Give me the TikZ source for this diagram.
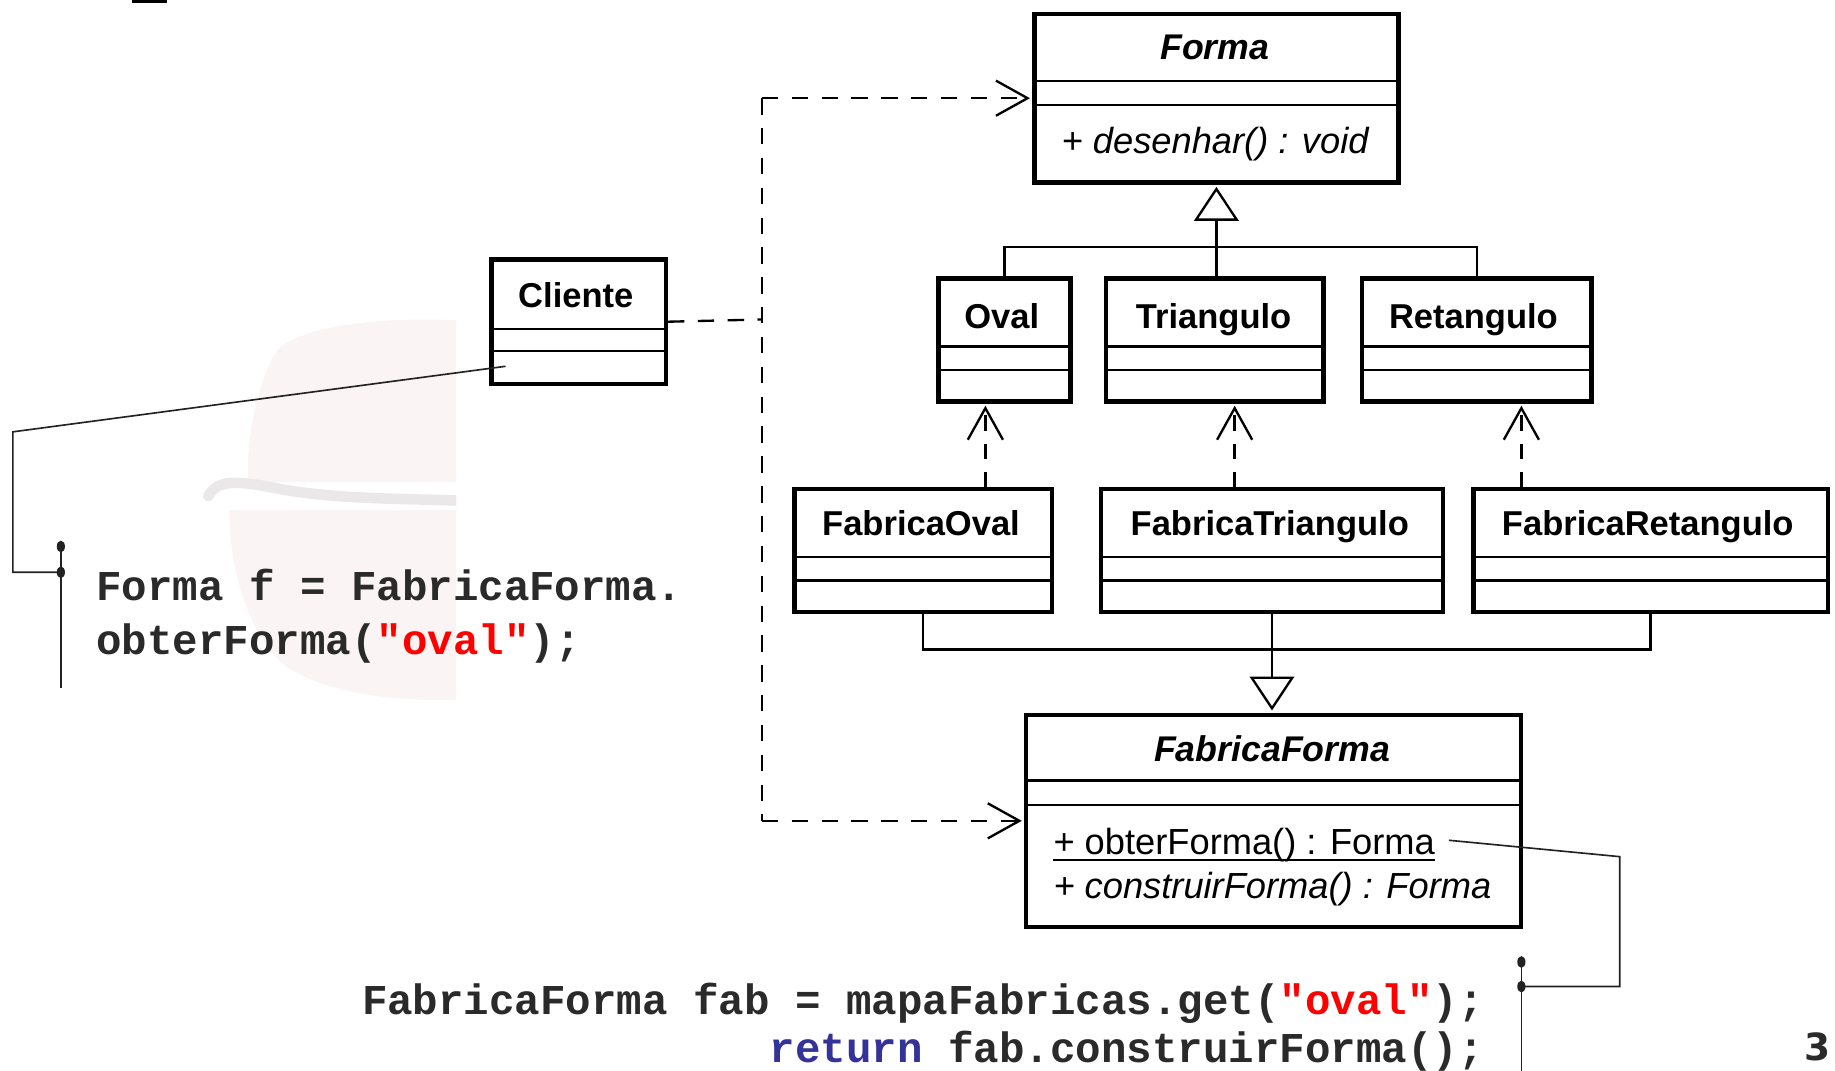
\documentclass[tikz,border=0pt]{standalone}
\usepackage{fontspec}
\setmainfont{Liberation Sans}
\newfontfamily\codefont{Liberation Mono}
\newfontfamily\numfont{DejaVu Sans}
\usetikzlibrary{arrows.meta}
\definecolor{codegray}{RGB}{42,42,42}
\definecolor{codered}{RGB}{255,0,0}
\definecolor{codeblue}{RGB}{51,51,153}
\definecolor{wmpink}{RGB}{251,244,244}
\definecolor{wmgrey}{RGB}{234,232,232}
\definecolor{notegray}{RGB}{34,34,34}

\begin{document}
\begin{tikzpicture}[x=1pt,y=-1pt,
  classbox/.style={draw, line width=3.8pt, inner sep=0pt, anchor=north west},
  sepline/.style={line width=2pt},
  ctitle/.style={anchor=base, inner sep=0pt, font=\fontsize{29.5}{34}\selectfont\bfseries},
  atitle/.style={anchor=base, inner sep=0pt, font=\fontsize{30.5}{34}\selectfont\bfseries\itshape},
  member/.style={anchor=base west, inner sep=0pt, font=\fontsize{31}{36}\selectfont},
  genline/.style={line width=2pt},
  gentip/.style={line width=2pt, shorten >=1.9pt, -{Triangle[length=29pt,width=38pt,fill=white]}},
  depline/.style={line width=2pt, dash pattern=on 14pt off 11.5pt},
  barb/.style={shorten >=1.9pt, -{Straight Barb[length=27pt,width=30pt]}},
  deptip/.style={line width=2pt, dash pattern=on 13pt off 11pt, barb},
  noteline/.style={line width=1.4pt, draw=notegray},
  notedot/.style={fill=notegray},
  code/.style={inner sep=0pt, text=codegray, font=\codefont\bfseries\fontsize{36.3}{44}\selectfont}
]
\useasboundingbox (0,0) rectangle (1568,915);

% faint pot emblem behind the left code snippet
\begin{scope}
  \clip (0,250) rectangle (390,620);
  \fill[wmpink] (236,300) .. controls (256,278) and (330,270) .. (395,274)
    -- (395,412) -- (212,412) .. controls (210,380) and (218,332) .. (236,300) -- cycle;
  \fill[wmpink] (196,436) -- (395,436) -- (395,598)
    .. controls (330,600) and (264,590) .. (236,562)
    .. controls (210,532) and (196,484) .. (196,436) -- cycle;
  \draw[wmgrey, line width=9pt, line cap=round]
    (178,424) .. controls (186,410) and (200,410) .. (240,418)
    .. controls (290,427) and (350,426) .. (398,428);
\end{scope}

% small rule at the top edge
\fill (113,0) rectangle (143,2.5);

% ---- classes ----
\node[classbox, minimum width=311pt, minimum height=144pt] (forma) at (882,10) {};
\draw[sepline] (forma.west |- 0,69) -- (forma.east |- 0,69);
\draw[sepline] (forma.west |- 0,90) -- (forma.east |- 0,90);
\node[atitle] (tforma) at (1038,51) {Forma};
\node[member] (mdesenhar) at (907,131) {\itshape + desenhar() : void};

\node[classbox, minimum width=149pt, minimum height=106pt] (cliente) at (418,220) {};
\draw[sepline] (cliente.west |- 0,281) -- (cliente.east |- 0,281);
\draw[sepline] (cliente.west |- 0,300) -- (cliente.east |- 0,300);
\node[ctitle] (tcliente) at (492,263) {Cliente};

\node[classbox, minimum width=113pt, minimum height=105pt] (oval) at (800,236) {};
\node[classbox, minimum width=186pt, minimum height=105pt] (triangulo) at (943,236) {};
\node[classbox, minimum width=196pt, minimum height=105pt] (retangulo) at (1162,236) {};
\foreach \b in {oval,triangulo,retangulo}{
  \draw[sepline] (\b.west |- 0,296) -- (\b.east |- 0,296);
  \draw[sepline] (\b.west |- 0,316) -- (\b.east |- 0,316);
}
\node[ctitle] (toval) at (856,281) {Oval};
\node[ctitle] (ttriangulo) at (1037,281) {Triangulo};
\node[ctitle] (tretangulo) at (1259,281) {Retangulo};

\node[classbox, minimum width=220pt, minimum height=105pt] (foval) at (677,416) {};
\node[classbox, minimum width=292pt, minimum height=105pt] (ftriangulo) at (939,416) {};
\node[classbox, minimum width=303pt, minimum height=105pt] (fretangulo) at (1257,416) {};
\foreach \b in {foval,ftriangulo,fretangulo}{
  \draw[sepline] (\b.west |- 0,476) -- (\b.east |- 0,476);
  \draw[sepline] (\b.west |- 0,496) -- (\b.east |- 0,496);
}
\node[ctitle] (tfoval) at (787,458) {FabricaOval};
\node[ctitle] (tftriangulo) at (1085,458) {FabricaTriangulo};
\node[ctitle] (tfretangulo) at (1408,458) {FabricaRetangulo};

\node[classbox, minimum width=423pt, minimum height=181pt] (fforma) at (875,609) {};
\draw[sepline] (fforma.west |- 0,667) -- (fforma.east |- 0,667);
\draw[sepline] (fforma.west |- 0,688) -- (fforma.east |- 0,688);
\node[atitle] (tfforma) at (1087,651) {FabricaForma};
\node[member] (mobter) at (900,730) {+ obterForma() : Forma};
\draw[line width=1.6pt] ([yshift=-5pt]mobter.base west) -- ([yshift=-5pt]mobter.base east);
\node[member] (mconstruir) at (900,768) {\itshape + construirForma() : Forma};

% ---- generalizations ----
\coordinate (hubA) at (1038,211);
\draw[genline] (oval.north) |- (hubA) -| (retangulo.north);
\draw[gentip] (triangulo.north -| forma.south) -- (forma.south);

\coordinate (hubB) at (1087,555);
\draw[genline] (foval.south) |- (hubB) -| (fretangulo.south);
\draw[gentip] (ftriangulo.south) -- (ftriangulo.south |- fforma.north);

% ---- dependencies ----
\coordinate (dx1) at (842,0);
\coordinate (dx2) at (1055,0);
\coordinate (dx3) at (1300,0);
\draw[deptip] (foval.north -| dx1) -- (oval.south -| dx1);
\draw[deptip] (ftriangulo.north -| dx2) -- (triangulo.south -| dx2);
\draw[deptip] (fretangulo.north -| dx3) -- (retangulo.south -| dx3);

\coordinate (bus) at (651,273);
\draw[depline] (cliente.east) -- (bus);
\draw[depline] (forma.west -| bus) -- (fforma.west -| bus);
\draw[depline, barb] (forma.west -| bus) -- (forma.west);
\draw[depline, barb] (fforma.west -| bus) -- (fforma.west);

% ---- note on Cliente ----
\coordinate (n1a) at (432,313);
\coordinate (n1b) at (11,369);
\coordinate (n1c) at (11,489);
\coordinate (n1d) at (52,489);
\coordinate (n1top) at (52,467);
\coordinate (n1bot) at (52,588);
\draw[noteline] (n1a) -- (n1b) -- (n1c) -- (n1d);
\draw[noteline] (n1top) -- (n1bot);
\fill[notedot] (n1top) ellipse[x radius=3.5pt, y radius=5pt];
\fill[notedot] (n1d) ellipse[x radius=3.5pt, y radius=5pt];
\node[code, anchor=base west] (c1) at (82,513) {Forma f = FabricaForma.};
\node[code, anchor=base west] (c2) at (82,559) {obterForma(\textcolor{codered}{"oval"});};

% ---- note on obterForma ----
\coordinate (n2a) at (1238,718);
\coordinate (n2b) at (1384,732);
\coordinate (n2c) at (1384,843);
\coordinate (n2d) at (1300,843);
\coordinate (n2top) at (1300,822);
\coordinate (n2bot) at (1300,922);
\draw[noteline] (n2a) -- (n2b) -- (n2c) -- (n2d);
\draw[noteline] (n2top) -- (n2bot);
\fill[notedot] (n2top) ellipse[x radius=3.5pt, y radius=5pt];
\fill[notedot] (n2d) ellipse[x radius=3.5pt, y radius=5pt];
\node[code, anchor=base east] (c3) at (1268,867) {FabricaForma fab = mapaFabricas.get(\textcolor{codered}{"oval"});};
\node[code, anchor=base east] (c4) at (1268,908) {\textcolor{codeblue}{return} fab.construirForma();};

% page number
\node[anchor=base east, inner sep=0pt, text=codegray, font=\numfont\bfseries\fontsize{32}{40}\selectfont] (pagenum) at (1564,906) {3};
\end{tikzpicture}
\end{document}
